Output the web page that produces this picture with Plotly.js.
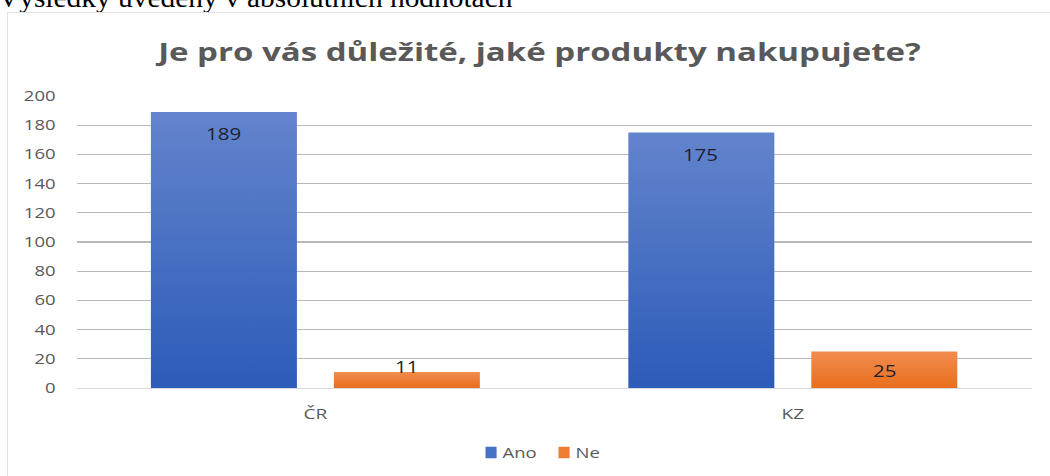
<!DOCTYPE html>
<html>
<head>
<meta charset="utf-8">
<script src="https://cdn.plot.ly/plotly-3.0.1.min.js"></script>
<style>
  html, body { margin: 0; padding: 0; width: 1050px; height: 476px; overflow: hidden; background: #fff; }
  #note { position: absolute; left: -2px; top: -16px; font-family: "Liberation Serif", "DejaVu Serif", serif; font-size: 28px; line-height: 28px; color: #000; white-space: nowrap; transform: scaleX(1.05); transform-origin: left top; }
  #frame { position: absolute; left: 7px; top: 12px; width: 1043px; height: 470px; border-left: 1.5px solid #dfe2e8; border-top: 1.5px solid #dfe2e8; background: #fff; overflow: hidden; }
  #chart { width: 789px; height: 463px; transform: scaleX(1.3207); transform-origin: left top; }
</style>
</head>
<body>
<div id="note">Výsledky uvedeny v absolutních hodnotách</div>
<div id="frame"><div id="chart"></div></div>
<script>
const categories = ["ČR", "KZ"];
const seriesNames = ["Ano", "Ne"];
const ano = [189, 175];
const ne = [11, 25];
const yTicks = [0, 20, 40, 60, 80, 100, 120, 140, 160, 180, 200];
const titleText = "Je pro vás důležité, jaké produkty nakupujete?";

const font = "Open Sans, Noto Sans, sans-serif";
const gray = "#595959";
const SX = 1.3207; // horizontal stretch of the original picture

const traces = [
  { type: "bar", name: seriesNames[0], x: categories, y: ano, marker: { color: "#4472c4" }, hoverinfo: "none" },
  { type: "bar", name: seriesNames[1], x: categories, y: ne, marker: { color: "#ed7d31" }, hoverinfo: "none" }
];

// data labels
const annotations = [];
categories.forEach((c, i) => {
  annotations.push({ x: c, y: ano[i], xref: "x", yref: "y", text: String(ano[i]), showarrow: false,
    xshift: -91.5 / SX, yshift: -22, yanchor: "middle", font: { family: font, size: 15.5, color: "#1f1f2e" } });
  const small = ne[i] < 15;
  annotations.push({ x: c, y: small ? ne[i] : ne[i] / 2, xref: "x", yref: "y", text: String(ne[i]), showarrow: false,
    xshift: 91.5 / SX, yshift: small ? 5 : -1, yanchor: "middle", font: { family: font, size: 15.5, color: "#1f1f2e" } });
});

const layout = {
  width: 789, height: 463,
  margin: { l: 69 / SX, r: 18 / SX, t: 83, b: 84 },
  paper_bgcolor: "rgba(0,0,0,0)", plot_bgcolor: "rgba(0,0,0,0)",
  barmode: "group", bargap: 0.2335, bargroupgap: 0.202,
  title: { text: "<b>" + titleText + "</b>", font: { family: font, size: 25, color: gray },
    x: 0.51, xanchor: "center", xref: "container", y: 1 - 39 / 463, yanchor: "middle", yref: "container" },
  xaxis: { type: "category", showgrid: false, zeroline: false, showline: true, linecolor: "#d9d9d9", linewidth: 1.2,
    ticks: "", ticklabelstandoff: 12, automargin: false, tickfont: { family: font, size: 14.5, color: gray } },
  yaxis: { range: [0, 200], tickvals: yTicks, ticktext: yTicks.map(String), showgrid: true, gridcolor: "#b8b8b8", gridwidth: 1.3,
    zeroline: false, showline: false, ticks: "", ticklabelstandoff: 15, automargin: false, tickfont: { family: font, size: 14, color: gray } },
  legend: { orientation: "h", x: 0.507, xanchor: "center", y: -0.205, yanchor: "middle", traceorder: "normal",
    font: { family: font, size: 14, color: gray }, itemwidth: 30, tracegroupgap: 0 },
  annotations: annotations,
  showlegend: true
};

Plotly.newPlot("chart", traces, layout, { displayModeBar: false, staticPlot: true }).then(() => {
  const svg = document.querySelector("#chart .main-svg");
  const defs = svg.querySelector("defs");
  const ns = "http://www.w3.org/2000/svg";
  const grads = [["gAno", "#6384cd", "#2c5bb8"], ["gNe", "#f28d4f", "#e86e1d"]];
  grads.forEach(([id, c1, c2]) => {
    const g = document.createElementNS(ns, "linearGradient");
    g.setAttribute("id", id); g.setAttribute("x1", "0"); g.setAttribute("y1", "0"); g.setAttribute("x2", "0"); g.setAttribute("y2", "1");
    const s1 = document.createElementNS(ns, "stop"); s1.setAttribute("offset", "0"); s1.setAttribute("stop-color", c1);
    const s2 = document.createElementNS(ns, "stop"); s2.setAttribute("offset", "1"); s2.setAttribute("stop-color", c2);
    g.appendChild(s1); g.appendChild(s2); defs.appendChild(g);
  });
  document.querySelectorAll("#chart .barlayer .trace.bars").forEach((t, i) => {
    t.querySelectorAll("path").forEach(p => { p.style.fill = "url(#" + grads[i][0] + ")"; });
  });

  // compact legend, like the original (square, small gap, text), slightly lower
  try {
    const leg = document.querySelector("#chart g.legend");
    const m = /translate\(\s*([-\d.]+)[ ,]+([-\d.]+)\s*\)/.exec(leg.getAttribute("transform") || "");
    const ty = m ? parseFloat(m[2]) : 0;
    leg.setAttribute("transform", "translate(" + ((486 - 8.5) / SX - 15.8) + "," + (ty + 5) + ")");
    leg.querySelectorAll("g.traces").forEach((item, i) => {
      const mm = /translate\(\s*([-\d.]+)[ ,]+([-\d.]+)\s*\)/.exec(item.getAttribute("transform") || "");
      const iy = mm ? parseFloat(mm[2]) : 0;
      item.setAttribute("transform", "translate(" + (i * 73 / SX) + "," + iy + ")");
      const txt = item.querySelector("text.legendtext");
      if (txt) txt.setAttribute("x", 28.7);
      item.querySelectorAll(".legendpoints path").forEach(p => {
        p.setAttribute("transform", "translate(20,0) scale(0.7,0.95)");
      });
    });
  } catch (e) {}
});
</script>
</body>
</html>
